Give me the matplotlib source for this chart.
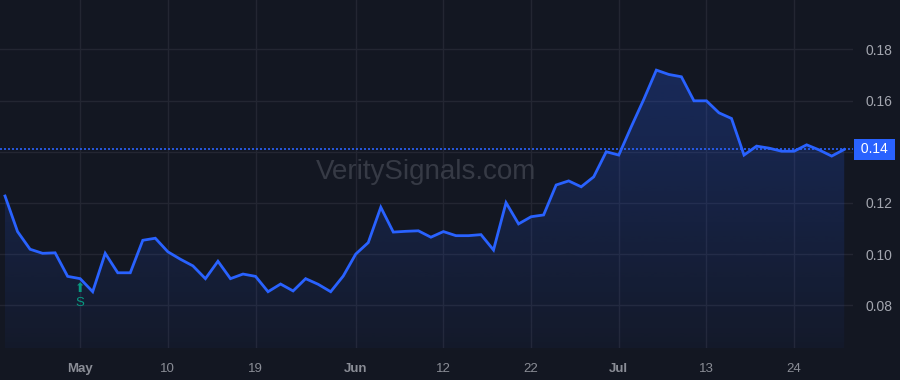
import matplotlib.pyplot as plt
import numpy as np
from matplotlib.patches import Polygon

# Handelstage (Index), Werte
werte = [0.1227, 0.1088, 0.1019, 0.1003, 0.1005, 0.0913, 0.0904, 0.0853, 0.1003, 0.0927,
         0.0927, 0.1054, 0.1062, 0.1009, 0.0980, 0.0954, 0.0904, 0.0972, 0.0904, 0.0922,
         0.0913, 0.0853, 0.0883, 0.0856, 0.0904, 0.0882, 0.0853, 0.0914, 0.1000, 0.1045,
         0.1183, 0.1086, 0.1089, 0.1091, 0.1066, 0.1088, 0.1072, 0.1072, 0.1076, 0.1016,
         0.1201, 0.1118, 0.1146, 0.1153, 0.1270, 0.1286, 0.1263, 0.1302, 0.1400, 0.1387,
         0.1498, 0.1605, 0.1719, 0.1702, 0.1693, 0.1599, 0.1599, 0.1552, 0.1530, 0.1387,
         0.1422, 0.1414, 0.1402, 0.1402, 0.1427, 0.1407, 0.1383, 0.1409]
tick_pos = [6, 13, 20, 28, 35, 42, 49, 56, 63]
tick_labels = ['May', '10', '19', 'Jun', '12', '22', 'Jul', '13', '24']
y_ticks = [0.08, 0.10, 0.12, 0.14, 0.16, 0.18]
signal_idx = 6  # "S" Markierung

bg = '#131722'
blau = '#2962ff'
plt.rcParams['font.family'] = ['Liberation Sans', 'DejaVu Sans']

x = np.arange(len(werte))
y = np.array(werte)
letzter = werte[-1]

fig = plt.figure(figsize=(9, 3.8), dpi=100, facecolor=bg)
ax = fig.add_axes([0, 32 / 380, 853 / 900, 348 / 380])
ax.set_facecolor(bg)

ymin, ymax = 0.0633, 0.1993
ax.set_xlim(-0.4, 67.7)
ax.set_ylim(ymin, ymax)

# Gitter
for t in y_ticks:
    ax.axhline(t, color='#232632', lw=1, zorder=0)
for p in tick_pos:
    ax.axvline(p, color='#232632', lw=1, zorder=0)

# Verlaufsfüllung unter der Linie
grad = np.zeros((100, 1, 4))
grad[:, 0, 0] = 41 / 255
grad[:, 0, 1] = 98 / 255
grad[:, 0, 2] = 1.0
grad[:, 0, 3] = np.linspace(0.26, 0.04, 100)
img = ax.imshow(grad, aspect='auto', extent=[x[0], x[-1], ymin, 0.175],
                origin='upper', zorder=1)
poly = Polygon(np.vstack([[x[0], ymin], np.column_stack([x, y]), [x[-1], ymin]]),
               closed=True, facecolor='none', edgecolor='none')
ax.add_patch(poly)
img.set_clip_path(poly)

ax.plot(x, y, color=blau, lw=2, zorder=3, solid_joinstyle='miter')

# aktueller Wert
ax.axhline(letzter, color=blau, lw=1.2, ls=(0, (1.2, 1.2)), zorder=2)
ax.annotate(f' {letzter:.2f} ', xy=(1.0, letzter), xycoords=('axes fraction', 'data'),
            xytext=(15.5, 0), textcoords='offset points', ha='center', va='center',
            color='white', fontsize=10,
            bbox=dict(boxstyle='square,pad=0.25', fc=blau, ec='none'),
            annotation_clip=False, zorder=5)

# Signal "S"
gruen = '#089981'
ax.text(signal_idx, 0.0867, '\u2b06', family='DejaVu Sans', color=gruen, fontsize=9,
        ha='center', va='center', zorder=4)
ax.text(signal_idx, 0.0810, 'S', color=gruen, fontsize=9.5, ha='center', va='center')

# Wasserzeichen
ax.text(0.5, 0.505, 'VeritySignals.com', transform=ax.transAxes, ha='center', va='center',
        fontsize=20, color='#363a45', zorder=1)

# Achsen
ax.yaxis.tick_right()
ax.set_yticks(y_ticks)
ax.set_yticklabels(['' if abs(t - letzter) < 0.005 else f'{t:.2f}' for t in y_ticks])
ax.set_xticks(tick_pos)
ax.set_xticklabels(tick_labels)
for lbl in ax.get_xticklabels():
    if not lbl.get_text().isdigit():
        lbl.set_fontweight('bold')
ax.tick_params(axis='x', length=0, pad=11, colors='#8a8d96', labelsize=9.5)
ax.tick_params(axis='y', length=0, pad=9, colors='#a3a6af', labelsize=10)
for s in ax.spines.values():
    s.set_visible(False)

fig.savefig('out.png', dpi=100, facecolor=bg)
